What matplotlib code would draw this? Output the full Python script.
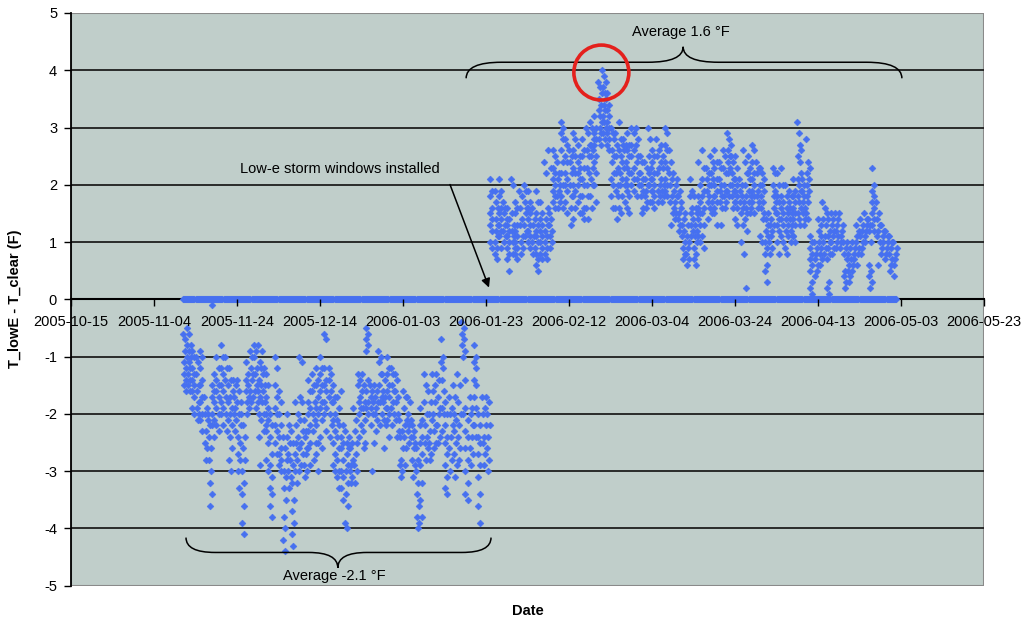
import pandas as pd
import matplotlib
matplotlib.use('Agg')
import matplotlib.pyplot as plt
import matplotlib.dates as mdates
from matplotlib.path import Path
from matplotlib.patches import PathPatch, Ellipse, Rectangle

plt.rcParams['font.family'] = ['Liberation Sans', 'DejaVu Sans']
plt.rcParams['axes.unicode_minus'] = False

# readings of T_lowE - T_clear, tenths of a degree F, one string per day
nov_start = '2005-11-11'
nov_2005 = [
    "-6 -7 -8 -9 -10 -11 -12 -13 -14 -15 -16",
    "-5 -6 -8 -9 -10 -11 -12 -13 -14 -15 -16",
    "-9 -10 -12 -13 -14 -15 -16 -17 -19 -20",
    "-10 -11 -13 -15 -16 -18 -19 -20 -21",
    "-9 -10 -12 -14 -15 -17 -18 -20 -21 -23",
    "-17 -19 -20 -21 -23 -25 -26 -28",
    "-20 -22 -24 -26 -28 -30 -32 -34 -36",
    "-1 -13 -15 -16 -17 -18 -20 -21 -22 -24",
    "-10 -12 -14 -15 -16 -17 -19 -20 -22 -23",
    "-8 -10 -12 -13 -15 -16 -18 -19 -20 -22",
    "-10 -12 -14 -15 -17 -18 -20 -21 -23",
    "-12 -14 -16 -17 -19 -20 -22 -24 -26 -28 -30",
    "-14 -15 -17 -18 -19 -20 -21 -23",
    "-14 -16 -18 -20 -22 -24 -25 -27 -28 -30 -33",
    "-20 -22 -24 -26 -28 -30 -32 -34 -36 -39 -41",
    "-11 -13 -14 -15 -16 -17 -18 -19 -20",
    "-9 -10 -12 -13 -14 -16 -17 -18",
    "-8 -9 -10 -12 -13 -15 -16 -18 -19",
    "-8 -11 -12 -14 -15 -16 -17 -18 -20 -21 -24 -29",
    "-9 -12 -13 -15 -16 -18 -20 -22 -23",
]

dec_start = '2005-12-01'
dec_2005 = [
    "-13 -15 -17 -19 -20 -21 -23 -25 -28 -30",
    "-20 -22 -24 -27 -29 -31 -33 -34 -36 -38",
    "-10 -12 -15 -17 -19 -20 -22 -23 -25 -27",
    "-16 -18 -20 -22 -24 -26 -27 -28 -29 -30",
    "-24 -26 -28 -30 -31 -33 -35 -38 -40 -42 -44",
    "-20 -22 -24 -25 -27 -28 -30 -31 -33",
    "-23 -25 -27 -29 -30 -32 -35 -37 -39 -41 -43",
    "-18 -20 -22 -24 -25 -26 -28 -30 -32",
    "-10 -11 -17 -18 -21 -23 -25 -27 -29",
    "-21 -23 -24 -26 -27 -29 -30 -31",
    "-14 -16 -18 -19 -20 -22 -23 -25 -26 -29",
    "-13 -15 -16 -18 -20 -21 -23 -25 -28",
    "-12 -14 -15 -17 -19 -20 -22 -25 -27 -30",
    "-10 -12 -13 -15 -16 -18 -19 -21 -24 -26",
    "-6 -7 -12 -14 -15 -16 -18 -19 -20 -23",
    "-12 -13 -14 -16 -17 -18 -20 -22 -24",
    "-15 -17 -18 -20 -21 -23 -25 -27 -29 -30",
    "-17 -19 -21 -22 -24 -26 -28 -30 -31 -33",
    "-16 -22 -24 -25 -26 -28 -30 -31 -33 -35",
    "-23 -25 -26 -27 -29 -30 -32 -34 -36 -39 -40",
    "-24 -25 -26 -28 -29 -30 -31 -32",
    "-19 -21 -23 -25 -27 -29 -30 -32",
    "-13 -14 -15 -17 -18 -19 -20 -22 -24",
    "-13 -15 -16 -18 -19 -21 -23 -25 -26",
    "-5 -6 -7 -8 -9 -14 -16 -18 -19 -20",
    "-15 -16 -17 -18 -19 -20 -22 -25 -30",
    "-15 -16 -17 -18 -19 -20 -21 -23",
    "-9 -10 -11 -13 -15 -17 -18 -20 -22",
    "-13 -14 -16 -17 -18 -19 -21 -22 -26",
    "-10 -12 -13 -15 -16 -17 -19 -20 -21 -24",
    "-12 -13 -15 -16 -18 -19 -20 -22",
]

jan_start = '2006-01-01'
jan_2006 = [
    "-13 -14 -16 -17 -18 -20 -21 -23 -24",
    "-21 -23 -24 -26 -28 -29 -30 -31",
    "-16 -17 -19 -21 -22 -24 -26 -29",
    "-17 -18 -20 -21 -22 -23 -24 -25",
    "-22 -23 -24 -25 -26 -28 -29 -31",
    "-26 -28 -30 -32 -34 -36 -38 -39 -40",
    "-19 -21 -22 -24 -25 -27 -29 -32 -35 -38",
    "-13 -15 -18 -20 -22 -24 -25 -26 -28",
    "-16 -18 -20 -21 -23 -25 -27 -28",
    "-13 -15 -16 -18 -20 -22 -23 -25 -26",
    "-13 -14 -17 -19 -20 -22 -24 -25",
    "-7 -10 -11 -12 -14 -16 -19 -20 -23",
    "-18 -20 -22 -24 -25 -27 -29 -31 -33 -34",
    "-17 -19 -20 -22 -24 -26 -28 -30",
    "-15 -17 -20 -21 -23 -25 -27 -29 -31",
    "-13 -15 -18 -20 -22 -24 -26 -28",
    "-4 -5 -6 -7 -8 -9 -10 -14 -20",
    "-19 -21 -23 -24 -26 -28 -30 -32 -34 -35",
    "-17 -19 -20 -22 -24 -26 -27 -29",
    "-8 -10 -11 -12 -14 -15 -17 -19 -22 -24",
    "-20 -22 -24 -25 -27 -29 -31 -34 -36 -39",
    "-17 -19 -20 -22 -24 -25 -27 -29",
    "-17 -18 -20 -22 -24 -26 -28 -30",
    "21 19 18 16 15 14 13 12 10 9",
    "19 17 16 14 13 12 11 10 9 8 7",
    "21 19 18 16 15 14 13 12 11 9",
    "17 16 15 14 13 12 11 10",
    "16 14 13 12 11 10 9 8 7 5",
    "21 20 15 13 12 11 10 9 8",
    "17 16 15 13 12 11 10 9 8 7",
    "19 18 16 14 13 11 10 9 8",
]

feb_start = '2006-02-01'
feb_2006 = [
    "20 19 17 16 15 13 12 11",
    "19 17 16 15 14 13 12 11 10 9",
    "16 14 13 12 11 10 9 8",
    "19 17 15 13 11 10 8 7 6 5",
    "17 15 14 13 12 11 10 9 8 7",
    "24 22 16 14 13 12 11 10 9 8 7",
    "26 23 15 14 13 12 11 10 9",
    "26 25 23 22 21 20 19 18 17 16",
    "24 22 21 20 19 18 17 16",
    "31 30 29 28 26 24 22 20 18 16",
    "28 27 25 24 22 21 20 19 17 15",
    "26 25 24 22 20 18 16 14 13",
    "29 28 26 25 23 22 20 19 18 16",
    "27 25 24 23 22 21 20 18 17 15",
    "28 26 25 23 21 20 18 16 15 14",
    "30 29 27 26 25 23 22 20 18 16 14",
    "31 30 28 27 26 25 23 21 20 18 16",
    "32 30 29 28 27 25 24 22 20 17",
    "38 37 36 35 34 33 32 31 30 29 28 27",
    "40 39 38 37 36 35 34 33 32 31 30 29 28",
    "36 34 33 32 31 30 29 28 27 26",
    "30 29 28 26 25 24 22 21 20 18 16",
    "29 27 26 25 23 22 20 19 18 16 14",
    "31 28 27 25 24 22 21 20 18 16 15",
    "28 27 26 24 23 21 20 19 17",
    "29 27 26 25 23 22 20 18 16 15",
    "30 29 27 26 25 23 22 21 20 19",
    "30 28 27 25 24 22 21 20 18",
]

mar_start = '2006-03-01'
mar_2006 = [
    "25 24 22 21 20 19 18 16 15",
    "24 23 21 20 19 18 17 16",
    "30 28 25 23 22 21 20 19 17",
    "26 25 24 22 21 20 19 18 17 16",
    "28 26 25 23 22 20 19 18 17",
    "27 25 24 23 21 20 19 18 17",
    "30 29 27 26 24 23 21 20 19 18",
    "26 24 22 21 20 18 17 15 13",
    "22 20 19 18 17 16 15 14",
    "21 19 18 17 15 14 13 12",
    "16 14 13 12 11 10 9 8 7",
    "15 13 11 10 9 8 7 6",
    "21 19 18 16 15 14 13 12 11",
    "18 16 15 13 12 11 10 9 8 7 6",
    "24 20 18 17 16 15 14 13 11 10",
    "26 23 21 19 18 16 15 13 11 9",
    "23 22 21 20 19 18 17 16 14",
    "25 24 22 21 20 18 17 16 15",
    "26 24 23 21 20 19 18 17 15 13",
    "24 23 21 20 19 18 17 16 13",
    "26 25 23 22 20 19 18 17 16",
    "29 28 27 26 25 24 23 22 20 19 18",
    "25 24 22 21 20 19 18 17 16",
    "25 23 21 20 19 18 17 16 14 13",
    "21 20 19 18 17 16 15 13 10",
    "26 24 22 20 18 17 16 15 14 12 8 2",
    "25 23 22 21 19 18 17 16 15",
    "27 26 24 22 21 20 19 18 17 15",
    "24 23 22 20 19 18 17 16",
    "23 22 21 20 19 18 17 16 14 11 10",
    "15 14 13 12 11 10 9 8 6 5 3",
]

apr_start = '2006-04-01'
apr_2006 = [
    "15 14 13 12 11 10 9 8",
    "23 22 20 19 18 17 16 15 13",
    "22 20 18 17 15 14 13 12 10 8",
    "23 20 18 17 16 15 14 13 11 10",
    "20 18 17 16 15 14 13 12 11 9 8",
    "19 18 16 15 14 13 12 11 10",
    "21 19 18 17 16 15 14 13 11 10",
    "31 29 27 26 25 24 22 21 20 19 18 17 16 15 14 13",
    "21 20 19 18 17 16 15 14 13",
    "28 24 23 22 21 20 19 18 17 15 14",
    "11 10 9 8 7 6 5 3 2 1",
    "10 9 8 7 6 5 4",
    "14 13 12 11 10 9 8 7 6",
    "17 16 14 13 11 10 9 8",
    "15 14 12 11 10 9 8 7 3 2 1",
    "15 14 13 12 11 10 9 8",
    "15 14 13 12 11 10 9",
    "15 13 12 11 10 9",
    "10 9 8 7 5 4 3 2",
    "10 9 8 7 6 5 4 3",
    "10 9 8 7 6 5",
    "13 12 11 10 9 8 6",
    "14 13 12 11 10 9 8",
    "15 14 13 12 11 10",
    "14 13 12 10 6 5 4 3 2",
    "23 20 19 18 17 16 15 14 13 12",
    "17 15 14 13 12 11 10 6",
    "13 12 11 10 9 8",
    "12 11 10 9 8 7",
    "11 10 9 8 7 6 5",
]

may_start = '2006-05-01'
may_2006 = [
    "10 9 8 7 6 4",
]

# readings logged as zero over the whole test period
zero_first = '2005-11-11'
zero_last = '2006-05-01 18:00'

x_ticks = pd.date_range('2005-10-15', '2006-05-23', freq='20D')
y_ticks = list(range(-5, 6))


def expand(start, days):
    t, v = [], []
    for k, s in enumerate(days):
        vals = [int(x) / 10 for x in s.split()]
        n = len(vals)
        for i, val in enumerate(vals):
            hour = 24 * (((i * 5) % n) + 0.5) / n
            t.append(pd.Timestamp(start) + pd.Timedelta(days=k, hours=hour))
            v.append(val)
    return t, v


times, values = [], []
for start, days in [(nov_start, nov_2005), (dec_start, dec_2005), (jan_start, jan_2006),
                    (feb_start, feb_2006), (mar_start, mar_2006), (apr_start, apr_2006),
                    (may_start, may_2006)]:
    t, v = expand(start, days)
    times += t
    values += v

zero_times = pd.date_range(zero_first, zero_last, freq='6h')

blue = '#4670F0'
fig = plt.figure(figsize=(10.26, 6.22), dpi=100)
ax = fig.add_axes([0.0692, 0.0584, 0.8899, 0.9207])
ax.set_facecolor('#C0CECA')

for y in y_ticks:
    if y not in (-5, 0, 5):
        ax.axhline(y, color='#1e1e1e', lw=1.3, zorder=1)

ax.scatter(zero_times, [0] * len(zero_times), marker='D', s=12, color=blue,
           linewidths=0.4, edgecolors=blue, zorder=3)
ax.scatter(times, values, marker='D', s=12, color=blue,
           linewidths=0.4, edgecolors=blue, zorder=3)

ax.set_xlim(pd.Timestamp('2005-10-15'), pd.Timestamp('2006-05-23'))
ax.set_ylim(-5, 5)
ax.set_xticks(x_ticks)
ax.xaxis.set_major_formatter(mdates.DateFormatter('%Y-%m-%d'))
ax.set_yticks(y_ticks)

ax.spines['bottom'].set_position(('data', 0))
ax.spines['bottom'].set_linewidth(1.5)
ax.spines['bottom'].set_zorder(2)
ax.spines['left'].set_linewidth(1.3)
ax.spines['top'].set_visible(False)
ax.spines['right'].set_visible(False)
ax.add_patch(Rectangle((0, 0), 1, 1, transform=ax.transAxes, fill=False,
                       edgecolor='#8a8a8a', lw=1.5, zorder=0.5))
ax.tick_params(axis='x', direction='out', length=5, width=1, pad=6, labelsize=10.5)
ax.tick_params(axis='y', direction='out', length=5, width=1, pad=5, labelsize=10.5)
ax.xaxis.set_zorder(4)

fig.text(15 / 1026, 0.52, 'T_lowE - T_clear (F)', rotation=90, ha='center', va='center',
         fontsize=10.5, fontweight='bold')
ax.text(0.5, -0.044, 'Date', transform=ax.transAxes, ha='center', va='center',
        fontsize=10.5, fontweight='bold')


def brace(x0, x1, xc, y_end, y_h, y_tip, r):
    x0, x1, xc = (mdates.date2num(pd.Timestamp(v)) for v in (x0, x1, xc))
    verts = [(x0, y_end), (x0, y_h), (x0 + r, y_h),
             (xc - r, y_h), (xc, y_h), (xc, y_tip),
             (xc, y_h), (xc + r, y_h),
             (x1 - r, y_h), (x1, y_h), (x1, y_end)]
    codes = [Path.MOVETO, Path.CURVE3, Path.CURVE3,
             Path.LINETO, Path.CURVE3, Path.CURVE3,
             Path.CURVE3, Path.CURVE3,
             Path.LINETO, Path.CURVE3, Path.CURVE3]
    ax.add_patch(PathPatch(Path(verts, codes), fill=False, color='black', lw=1.1, zorder=5))


brace('2006-01-18 05:00', '2006-05-03 05:00', '2006-03-11 12:00', 3.86, 4.14, 4.41, 8.5)
brace('2005-11-11 17:00', '2006-01-24 05:00', '2005-12-18 07:00', -4.16, -4.42, -4.69, 7)
ax.text(pd.Timestamp('2006-03-11'), 4.67, 'Average 1.6 °F', ha='center', va='center', fontsize=10.5)
ax.text(pd.Timestamp('2005-12-17 12:00'), -4.83, 'Average -2.1 °F', ha='center', va='center',
        fontsize=10.5)

ax.add_patch(Ellipse((mdates.date2num(pd.Timestamp('2006-02-19 19:00')), 3.96), 13.25, 0.96,
                     fill=False, edgecolor='#E4201C', lw=2.6, zorder=5))

ax.text(pd.Timestamp('2005-12-18 19:00'), 2.27, 'Low-e storm windows installed',
        ha='center', va='center', fontsize=10.5)
ax.annotate('', xy=(pd.Timestamp('2006-01-23 23:00'), 0.16),
            xytext=(pd.Timestamp('2006-01-14 02:00'), 2.05),
            arrowprops=dict(arrowstyle='-|>', color='black', lw=1.1, mutation_scale=13),
            zorder=5)

fig.savefig('out.png', dpi=100)
